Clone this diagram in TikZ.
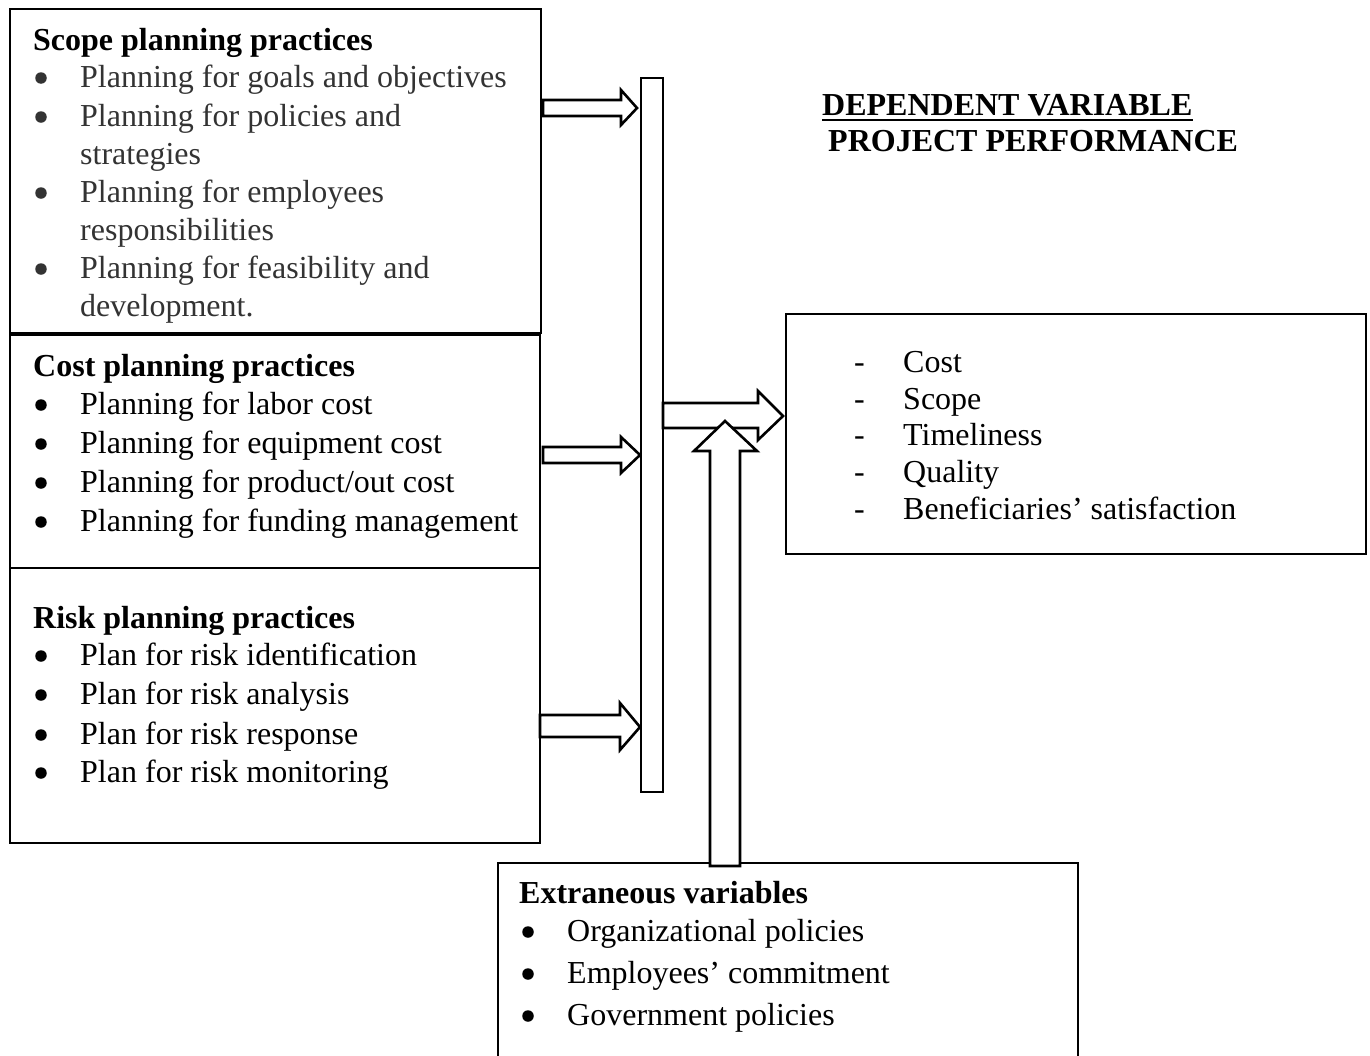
\documentclass[tikz,border=0pt]{standalone}
\usepackage{fontspec}
\usetikzlibrary{calc}
\setmainfont{Liberation Serif}
\definecolor{itemgray}{HTML}{333333}
\begin{document}
\begin{tikzpicture}[x=1pt,y=-1pt,
  box/.style={draw=black, line width=2.6pt},
  blockarrow/.style={draw=black, fill=white, line width=2.6pt, line join=miter},
  txt/.style={anchor=base west, inner sep=0pt, font=\fontsize{32}{38}\selectfont},
  hd/.style={anchor=base west, inner sep=0pt, font=\fontsize{32}{38}\selectfont\bfseries},
  gtxt/.style={txt, text=itemgray},
  bul/.style={circle, fill=black, inner sep=0pt, minimum size=11.5pt}
]
\useasboundingbox (0,0) rectangle (1370,1055);

% ---- boxes ----
\draw[box] (10,9) rectangle (541,333);
\draw[box] (10,335) rectangle (540,568);
\draw[box] (10,568) rectangle (540,843);
\draw[box] (786,314) rectangle (1366,554);
\draw[box] (498,1060) -- (498,863) -- (1078,863) -- (1078,1060);

% ---- vertical bar ----
\draw[box, fill=white] (641,78) rectangle (663,792);

% ---- small block arrows ----
\draw[blockarrow] (543,100) -- (621,100) -- (621,90) -- (637,108) -- (621,125) -- (621,116) -- (543,116) -- cycle;
\draw[blockarrow] (543,447) -- (621,447) -- (621,437) -- (640,455) -- (621,473) -- (621,463) -- (543,463) -- cycle;
\draw[blockarrow] (540,715) -- (620,715) -- (620,703) -- (640,727) -- (620,750) -- (620,737) -- (540,737) -- cycle;

% ---- big right arrow ----
\draw[blockarrow] (663,403) -- (758,403) -- (758,391) -- (783,416) -- (758,440) -- (758,428) -- (663,428) -- cycle;

% ---- up arrow ----
\draw[blockarrow] (710,866) -- (710,451) -- (694,451) -- (725,421) -- (757,451) -- (740,451) -- (740,866) -- cycle;

% ---- Scope ----
\node[hd] (sh) at (33,50) {Scope planning practices};
\foreach \y [count=\i] in {87,126,202,278}
  \node[bul, fill=itemgray] (sb\i) at (41,\y-9) {};
\node[gtxt] (s1) at (80,87) {Planning for goals and objectives};
\node[gtxt] (s2) at (80,126) {Planning for policies and};
\node[gtxt] (s3) at (80,164) {strategies};
\node[gtxt] (s4) at (80,202) {Planning for employees};
\node[gtxt] (s5) at (80,240) {responsibilities};
\node[gtxt] (s6) at (80,278) {Planning for feasibility and};
\node[gtxt] (s7) at (80,316) {development.};

% ---- Cost ----
\node[hd] (ch) at (33,376) {Cost planning practices};
\foreach \y [count=\i] in {414,453,492,531}
  \node[bul] (cb\i) at (41,\y-9) {};
\node[txt] (c1) at (80,414) {Planning for labor cost};
\node[txt] (c2) at (80,453) {Planning for equipment cost};
\node[txt] (c3) at (80,492) {Planning for product/out cost};
\node[txt] (c4) at (80,531) {Planning for funding management};

% ---- Risk ----
\node[hd] (rh) at (33,628) {Risk planning practices};
\foreach \y/\t [count=\i] in {665/Plan for risk identification, 704/Plan for risk analysis, 744/Plan for risk response, 782/Plan for risk monitoring}{
  \node[bul] (rb\i) at (41,\y-9) {};
  \node[txt] (r\i) at (80,\y) {\t};
}

% ---- Extraneous ----
\node[hd] (eh) at (519,903) {Extraneous variables};
\foreach \y/\t [count=\i] in {941/Organizational policies, 983/Employees’ commitment, 1025/Government policies}{
  \node[bul] (eb\i) at (528,\y-9) {};
  \node[txt] (e\i) at (567,\y) {\t};
}

% ---- Dependent list ----
\foreach \y/\t [count=\i] in {372/Cost, 409/Scope, 445/Timeliness, 482/Quality, 519/Beneficiaries’ satisfaction}{
  \node[txt] (db\i) at (854,\y) {-};
  \node[txt] (d\i) at (903,\y) {\t};
}

% ---- Title ----
\node[hd] (t1) at (822,115) {DEPENDENT VARIABLE};
\draw[line width=2pt] ($(t1.base west)+(0,5)$) -- ($(t1.base east)+(0,5)$);
\node[hd] (t2) at (828,151) {PROJECT PERFORMANCE};
\end{tikzpicture}
\end{document}
